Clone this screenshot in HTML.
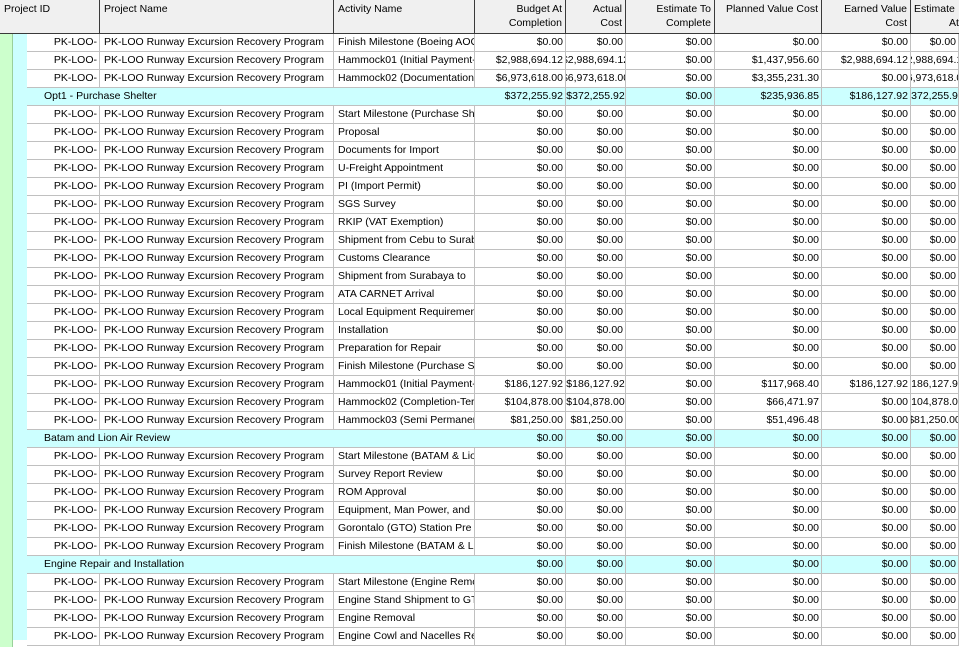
<!DOCTYPE html>
<html><head><meta charset="utf-8">
<style>
html,body{margin:0;padding:0;width:959px;height:647px;overflow:hidden;background:#fff;font-family:"Liberation Sans",Arial,sans-serif;font-size:10.5px;color:#000}
#grid{position:absolute;left:0;top:0;width:959px;height:647px;overflow:hidden}
.hdr{position:absolute;left:0;top:0;width:980px;height:33px;background:#f0f0f0;border-bottom:1px solid #3a3a3a}
.hc{position:absolute;top:0;height:33px;border-right:1px solid #3a3a3a;box-sizing:border-box;padding:2px 3px 0 4px;line-height:14px;overflow:hidden}
.hc.r{text-align:right}
.gut1{position:absolute;left:0;top:34px;width:13px;height:613px;background:#ccffcc;border-right:1px solid #9ad09a;box-sizing:border-box}
.gut2{position:absolute;left:13px;top:34px;width:14px;height:606px;background:#ccffff}
.row{position:absolute;left:27px;height:18px;width:960px}
.row.grp{background:#ccffff;left:13px;width:980px}
.c{position:absolute;top:0;height:18px;box-sizing:border-box;border-right:1px solid #c0c0c0;border-bottom:1px solid #c0c0c0;overflow:hidden;white-space:nowrap;line-height:17px}
.c span{position:absolute;top:0;width:max-content}
.c.l span{left:4px}
.c.r span{right:2px}
.c.ctr span{left:50%;transform:translateX(-50%);right:auto}
</style></head><body>
<div id="grid">
<div class="hdr">
 <div class="hc" style="left:0;width:100px">Project ID</div>
 <div class="hc" style="left:100px;width:234px">Project Name</div>
 <div class="hc" style="left:334px;width:141px">Activity Name</div>
 <div class="hc r" style="left:475px;width:91px">Budget At<br>Completion</div>
 <div class="hc r" style="left:566px;width:60px">Actual<br>Cost</div>
 <div class="hc r" style="left:626px;width:89px">Estimate To<br>Complete</div>
 <div class="hc r" style="left:715px;width:107px">Planned Value Cost</div>
 <div class="hc r" style="left:822px;width:89px">Earned Value<br>Cost</div>
 <div class="hc" style="left:911px;width:60px;text-align:left;padding-left:3px;white-space:nowrap">Estimate<br>&nbsp;&nbsp;&nbsp;&nbsp;&nbsp;&nbsp;&nbsp;&nbsp;&nbsp;&nbsp;&nbsp;&nbsp;At</div>
</div>
<div class="gut1"></div>
<div class="gut2"></div>
<div id="rows"></div>
</div>
<script>
const P="PK-LOO Runway Excursion Recovery Program";
// [type, activity/group name, budget, actual, etc, pv, ev, eac]
const rowsData=[
["a","Finish Milestone (Boeing AOG Recovery)",0,0,0,0,0,0],
["a","Hammock01 (Initial Payment-",2988694.12,2988694.12,0,1437956.60,2988694.12,2988694.12],
["a","Hammock02 (Documentation",6973618.00,6973618.00,0,3355231.30,0,6973618.00],
["g","Opt1 - Purchase Shelter",372255.92,372255.92,0,235936.85,186127.92,372255.92],
["a","Start Milestone (Purchase Shelter)",0,0,0,0,0,0],
["a","Proposal",0,0,0,0,0,0],
["a","Documents for Import",0,0,0,0,0,0],
["a","U-Freight Appointment",0,0,0,0,0,0],
["a","PI (Import Permit)",0,0,0,0,0,0],
["a","SGS Survey",0,0,0,0,0,0],
["a","RKIP (VAT Exemption)",0,0,0,0,0,0],
["a","Shipment from Cebu to Surabaya",0,0,0,0,0,0],
["a","Customs Clearance",0,0,0,0,0,0],
["a","Shipment from Surabaya to",0,0,0,0,0,0],
["a","ATA CARNET Arrival",0,0,0,0,0,0],
["a","Local Equipment Requirement",0,0,0,0,0,0],
["a","Installation",0,0,0,0,0,0],
["a","Preparation for Repair",0,0,0,0,0,0],
["a","Finish Milestone (Purchase Shelter)",0,0,0,0,0,0],
["a","Hammock01 (Initial Payment-",186127.92,186127.92,0,117968.40,186127.92,186127.92],
["a","Hammock02 (Completion-Term",104878.00,104878.00,0,66471.97,0,104878.00],
["a","Hammock03 (Semi Permanent",81250.00,81250.00,0,51496.48,0,81250.00],
["g","Batam and Lion Air Review",0,0,0,0,0,0],
["a","Start Milestone (BATAM & Lion",0,0,0,0,0,0],
["a","Survey Report Review",0,0,0,0,0,0],
["a","ROM Approval",0,0,0,0,0,0],
["a","Equipment, Man Power, and",0,0,0,0,0,0],
["a","Gorontalo (GTO) Station Pre",0,0,0,0,0,0],
["a","Finish Milestone (BATAM & Lion",0,0,0,0,0,0],
["g","Engine Repair and Installation",0,0,0,0,0,0],
["a","Start Milestone (Engine Removal",0,0,0,0,0,0],
["a","Engine Stand Shipment to GTO",0,0,0,0,0,0],
["a","Engine Removal",0,0,0,0,0,0],
["a","Engine Cowl and Nacelles Repair",0,0,0,0,0,0]
];
const numNames=["budget-at-completion","actual-cost","estimate-to-complete","planned-value-cost","earned-value-cost","estimate-at-completion"];
const numCols=[[475,91],[566,60],[626,89],[715,107],[822,89],[911,48]];
function fmt(v){return "$"+v.toLocaleString("en-US",{minimumFractionDigits:2,maximumFractionDigits:2});}
const host=document.getElementById("rows");
rowsData.forEach((d,i)=>{
  const top=34+i*18;
  const row=document.createElement("div");
  
  
  row.className="row"+(d[0]==="g"?" grp":"");
  row.style.top=top+"px";
  const off=d[0]==="g"?13:27;
  function cell(x,w,txt,cls,name){
    const c=document.createElement("div");
    
    
    c.className="c "+cls;
    c.style.left=(x-off)+"px";c.style.width=w+"px";
    const s=document.createElement("span");s.textContent=txt;c.appendChild(s);
    row.appendChild(c);return c;
  }
  if(d[0]==="g"){
    const bg=document.createElement("div");
    
    
    bg.className="c l";bg.style.left="14px";bg.style.width="462px";bg.style.borderRight="none";
    const s=document.createElement("span");s.textContent=d[1];s.style.left="17px";bg.appendChild(s);
    row.appendChild(bg);
  } else {
    cell(27,73,"PK-LOO-","r","project-id-cell");
    cell(100,234,P,"l","project-name-cell");
    cell(334,141,d[1],"l","activity-name-cell");
  }
  numCols.forEach((nc,k)=>{
    cell(nc[0],nc[1],fmt(d[2+k]),"r",numNames[k]+"-cell");
  });
  host.appendChild(row);
});
document.querySelectorAll(".c.r").forEach(c=>{
  const s=c.firstChild;
  if(s.getBoundingClientRect().width>c.clientWidth-3)c.classList.add("ctr");
});
</script>
</body></html>
